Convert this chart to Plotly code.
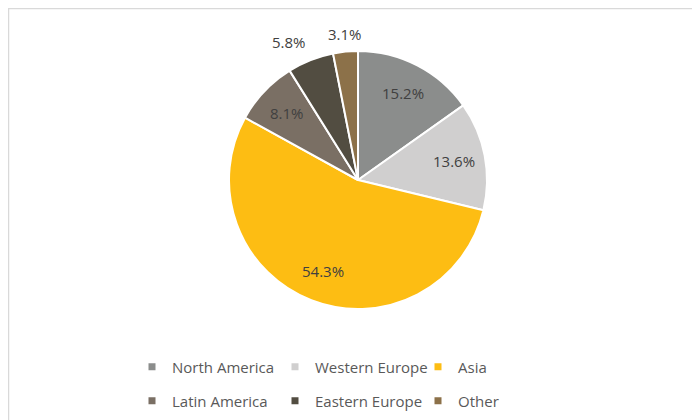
import math
import plotly.graph_objects as go

regions = ["North America", "Western Europe", "Asia", "Latin America", "Eastern Europe", "Other"]
shares = [15.2, 13.6, 54.3, 8.1, 5.8, 3.1]
colors = ["#8B8D8C", "#D0CFCF", "#FDBD13", "#7A6F64", "#524D41", "#8C7149"]
outside = [False, False, False, False, True, True]

W, H = 700, 420
ML, MR, MT, MB = 100, 100, 0, 0
gw, gh = W - ML - MR, H - MT - MB

FONT = "Open Sans"
TEXT_DARK = "#404040"
TEXT_GREY = "#595959"

# pie geometry in figure pixels
CX, CY, R = 350, 172, 129


def px_x(x):
    return (x - ML) / gw


def px_y(y):
    return 1 - (y - MT) / gh


fig = go.Figure()

fig.add_trace(go.Pie(
    labels=regions,
    values=shares,
    sort=False,
    direction="clockwise",
    rotation=0,
    marker=dict(colors=colors, line=dict(color="#FFFFFF", width=2)),
    textinfo="none",
    domain=dict(x=[px_x(CX - R), px_x(CX + R)], y=[px_y(CY + R), px_y(CY - R)]),
    hovertemplate="%{label}: %{value:.1f}%<extra></extra>",
    showlegend=False,
))

# data labels, placed along each slice's mid angle
total = sum(shares)
start = 0.0
for val, out in zip(shares, outside):
    mid = (start + val / 2) / total * 2 * math.pi
    start += val
    s, c = math.sin(mid), math.cos(mid)
    if out:
        d = R + 6
        xa = "right" if s < -0.2 else ("left" if s > 0.2 else "center")
        ya = "bottom" if c > 0 else "top"
    else:
        d = 0.76 * R
        xa, ya = "center", "middle"
    fig.add_annotation(
        x=px_x(CX + d * s), y=px_y(CY - d * c),
        xref="paper", yref="paper",
        xanchor=xa, yanchor=ya,
        text=f"{val:.1f}%", showarrow=False,
        font=dict(family=FONT, size=15, color=TEXT_DARK),
    )

# legend entries, split over two rows
for i, (name, col) in enumerate(zip(regions, colors)):
    fig.add_trace(go.Scatter(
        x=[None], y=[None], mode="markers", name=name,
        marker=dict(symbol="square", size=7, color=col),
        legend="legend" if i < 3 else "legend2",
        hoverinfo="skip",
    ))

legend_style = dict(
    orientation="h",
    x=px_x(124), xanchor="left",
    yanchor="middle",
    entrywidth=98,
    font=dict(family=FONT, size=15, color=TEXT_GREY),
    itemclick=False, itemdoubleclick=False,
    bgcolor="rgba(0,0,0,0)",
)

# light grey chart frame (top and left edges visible, the rest runs off the page)
fig.add_shape(
    type="rect", xref="paper", yref="paper",
    x0=px_x(0.5), x1=px_x(760), y0=px_y(480), y1=px_y(0.5),
    line=dict(color="#D9D9D9", width=1.5), fillcolor="rgba(0,0,0,0)",
)

fig.update_layout(
    width=W,
    height=H,
    margin=dict(l=ML, r=MR, t=MT, b=MB),
    paper_bgcolor="white",
    plot_bgcolor="white",
    font=dict(family=FONT, color=TEXT_GREY),
    xaxis=dict(visible=False),
    yaxis=dict(visible=False),
    legend=dict(legend_style, y=px_y(359)),
    legend2=dict(legend_style, y=px_y(393)),
)

fig.write_html("out.html")
